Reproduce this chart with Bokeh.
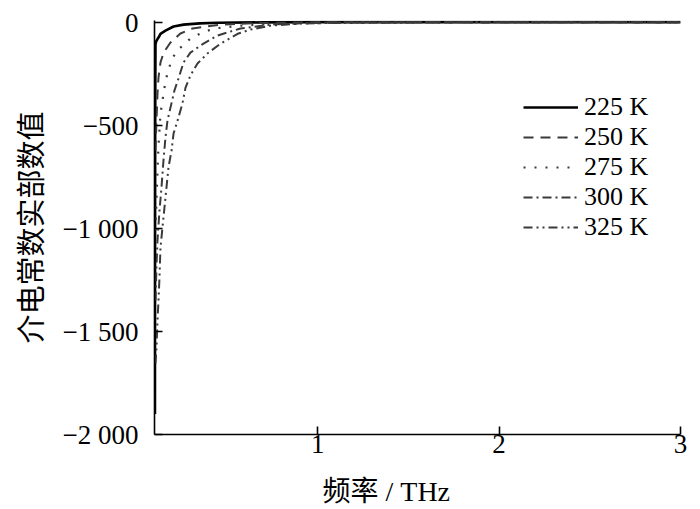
from bokeh.plotting import figure
from bokeh.models import Range1d, FixedTicker, Title
from bokeh.embed import file_html
from bokeh.resources import INLINE

# ---- data ----
series_labels = ["225 K", "250 K", "275 K", "300 K", "325 K"]

freq_225 = [0.1025, 0.103, 0.1037, 0.1045, 0.1055, 0.110, 0.1165, 0.122, 0.133, 0.1605, 0.205, 0.26, 0.35, 0.447, 0.70, 1.0, 2.0, 3.0]
eps_225 = [-1900, -1200, -600, -300, -105, -90, -80, -73, -55, -39, -19, -10, -4, -1, 1, 2, 2, 2]

freq_250 = [0.1055, 0.111, 0.1165, 0.122, 0.133, 0.150, 0.188, 0.243, 0.309, 0.464, 0.684, 1.0, 2.0, 3.0]
eps_250 = [-621, -476, -345, -267, -194, -146, -97, -53, -29, -10, -2, 1, 2, 2]

freq_275 = [0.1055, 0.111, 0.1165, 0.122, 0.133, 0.144, 0.155, 0.1715, 0.194, 0.216, 0.254, 0.298, 0.353, 0.425, 0.574, 0.794, 1.2, 2.0, 3.0]
eps_275 = [-1010, -864, -718, -597, -442, -379, -316, -243, -184, -146, -112, -78, -53, -29, -15, -5, 0, 2, 2]

freq_300 = [0.1055, 0.111, 0.1165, 0.1275, 0.1385, 0.1495, 0.1605, 0.1715, 0.188, 0.210, 0.232, 0.260, 0.298, 0.370, 0.447, 0.574, 0.739, 1.015, 2.0, 3.0]
eps_300 = [-1349, -1180, -1058, -913, -801, -670, -558, -476, -413, -330, -272, -194, -146, -102, -63, -29, -10, 0, 2, 2]

freq_325 = [0.1055, 0.111, 0.1165, 0.122, 0.1275, 0.133, 0.144, 0.155, 0.166, 0.177, 0.194, 0.205, 0.227, 0.254, 0.271, 0.298, 0.337, 0.392, 0.464, 0.563, 0.629, 0.739, 0.904, 1.18, 2.0, 3.0]
eps_325 = [-1655, -1578, -1447, -1349, -1238, -1092, -995, -898, -801, -704, -621, -539, -476, -393, -316, -257, -199, -150, -102, -53, -34, -15, -5, 0, 2, 2]

x_ticks = [1, 2, 3]
y_ticks = [-2000, -1500, -1000, -500, 0]
y_tick_labels = ["\u22122 000", "\u22121 500", "\u22121 000", "\u2212500", "0"]

x_title = "频率 / THz"
y_title = "介电常数实部数值"

FONT = "Liberation Serif, Noto Sans CJK SC"
LATIN = "Liberation Serif"

p = figure(
    frame_width=526, frame_height=414,
    min_border_left=154, min_border_right=20, min_border_top=20, min_border_bottom=75,
    x_range=Range1d(0.1, 3.0), y_range=Range1d(-2000, 10),
    output_backend="svg", toolbar_location=None,
)
p.outline_line_color = None
p.xgrid.visible = False
p.ygrid.visible = False
p.background_fill_color = "white"
p.border_fill_color = "white"

styles = [
    dict(color="#000000", width=2.6, dash="solid"),
    dict(color="#3a3a3a", width=2.0, dash="10 7"),
    dict(color="#3a3a3a", width=2.2, dash="2 9"),
    dict(color="#3a3a3a", width=2.0, dash="9 4 2 4"),
    dict(color="#3a3a3a", width=2.0, dash="9 4 2 4 2 4"),
]
xs = [freq_225, freq_250, freq_275, freq_300, freq_325]
ys = [eps_225, eps_250, eps_275, eps_300, eps_325]
for xv, yv, lab, st in zip(xs, ys, series_labels, styles):
    p.line(xv, yv, line_color=st["color"], line_width=st["width"],
           line_dash=st["dash"], legend_label=lab)

# axes
for ax in (p.xaxis[0], p.yaxis[0]):
    ax.axis_line_color = "black"
    ax.axis_line_width = 1.6
    ax.major_tick_line_color = "black"
    ax.major_tick_line_width = 1.6
    ax.major_tick_in = 8
    ax.major_tick_out = 0
    ax.minor_tick_line_color = None
    ax.major_label_text_font = LATIN
    ax.major_label_text_font_size = "27px"
    ax.major_label_text_color = "black"

p.xaxis[0].ticker = FixedTicker(ticks=x_ticks)
p.xaxis[0].major_label_standoff = 0
p.yaxis[0].ticker = FixedTicker(ticks=y_ticks)
p.yaxis[0].major_label_overrides = {t: s for t, s in zip(y_ticks, y_tick_labels)}
p.yaxis[0].major_label_standoff = 16
p.yaxis[0].axis_label = y_title
p.yaxis[0].axis_label_text_font = FONT
p.yaxis[0].axis_label_text_font_size = "29px"
p.yaxis[0].axis_label_text_font_style = "normal"
p.yaxis[0].axis_label_text_color = "black"
p.yaxis[0].axis_label_standoff = 12

xt = Title(text=x_title, align="left", offset=168, text_font=FONT,
           text_font_size="28px", text_font_style="normal", text_color="black",
           standoff=36)
p.add_layout(xt, "below")

# legend
lg = p.legend[0]
lg.location = (369, 192)
lg.orientation = "vertical"
lg.padding = 0
lg.margin = 0
lg.spacing = 0
lg.border_line_color = None
lg.background_fill_alpha = 0
lg.glyph_width = 55
lg.glyph_height = 28
lg.label_height = 28
lg.label_standoff = 6
lg.label_text_font = LATIN
lg.label_text_font_size = "26px"
lg.label_text_color = "black"

open("out.html", "w").write(file_html(p, INLINE))
